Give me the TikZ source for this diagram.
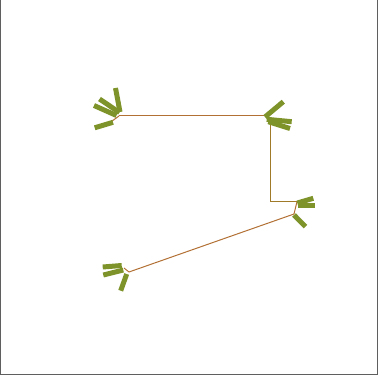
\documentclass[tikz,border=0pt]{standalone}
\usepackage{xcolor}
\usepackage{tikz}
\usetikzlibrary{calc}
\definecolor{framegray}{RGB}{95, 95, 95}
\definecolor{rustline}{RGB}{178, 112, 52}
\definecolor{ochreline}{RGB}{160, 122, 40}
\definecolor{vanegreen}{RGB}{126, 148, 42}

\begin{document}
\begin{tikzpicture}[x=1pt, y=-1pt,
    frame/.style={draw=framegray, line width=1.4pt},
    trail/.style={draw=rustline, line width=1pt},
    elbow/.style={draw=ochreline, line width=1pt},
    vane/.style={draw=vanegreen, line width=5pt, line cap=butt}
]
\useasboundingbox (0,0) rectangle (382,382);

% Frame
\draw[frame] (0.7,-3) -- (0.7,374.5) -- (377.5,374.5) -- (377.5,-3);

% Points of the trail
\coordinate (p1) at (119,116);
\coordinate (p2) at (266,116);
\coordinate (p3) at (270.5,120);
\coordinate (p4) at (270.5,201.5);
\coordinate (p5) at (297,201.5);
\coordinate (p6) at (294,214);
\coordinate (p7) at (129,272);

% Trail
\draw[trail] (p1) -- (p2);
\draw[elbow] (p3) -- (p4) -- (p5);
\draw[trail] (p5) -- (p6) -- (p7);
\draw[trail] (p1) -- (108,124);

% Vanes at p1
\draw[vane] (120,112) -- (115.5,88);
\draw[vane] (119.5,112.5) -- (99.5,99);
\draw[vane] (116.5,115.5) -- (94,105.5);
\draw[vane] (113,122.3) -- (94.7,127.8);

% Vanes at p2
\draw[vane] (265,117) -- (283.3,101.7);
\draw[vane] (266.7,119.3) -- (291.7,121.7);
\draw[vane] (268.3,121.7) -- (290,128.5);

% Vanes at p5
\draw[vane] (297.3,203) -- (313.3,198.3);
\draw[vane] (298,205.5) -- (315,205.5);
\draw[vane] (294,215) -- (305.5,226.7);

% Vanes at p7
\draw[trail] (p7) -- (124,268);
\draw[vane] (121.7,265.5) -- (102.7,267);
\draw[vane] (123.3,270) -- (103.3,275);
\draw[vane] (126.7,274) -- (120.7,290.7);

\end{tikzpicture}
\end{document}
